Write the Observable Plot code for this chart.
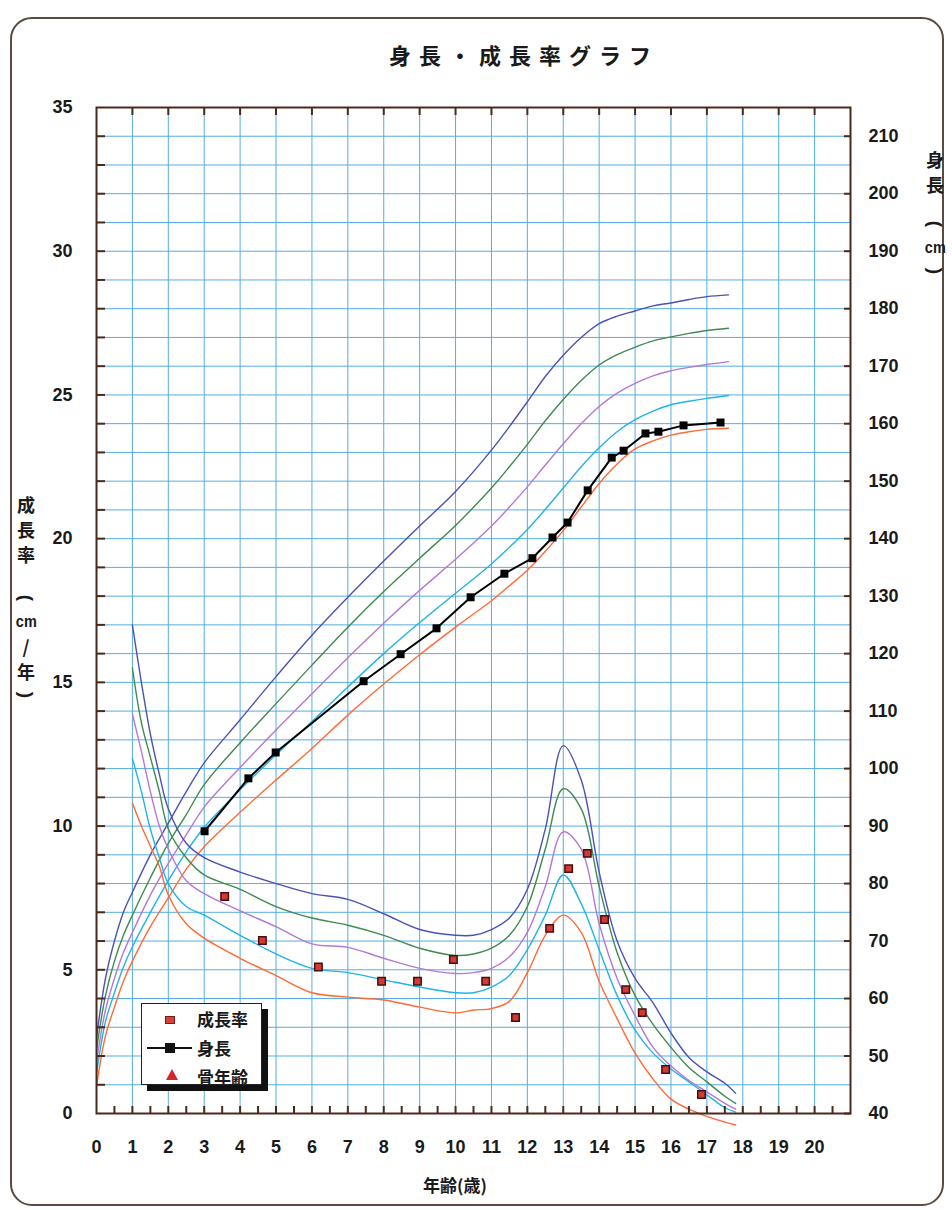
<!DOCTYPE html>
<html>
<head>
<meta charset="utf-8">
<script src="https://cdn.jsdelivr.net/npm/d3@7"></script>
<script src="https://cdn.jsdelivr.net/npm/@observablehq/plot@0.6"></script>
<style>
  html, body { margin: 0; padding: 0; background: #fff; }
  #wrap { position: relative; width: 952px; height: 1210px; overflow: hidden; background: #fff; }
  #border { position: absolute; left: 10px; top: 17px; width: 930px; height: 1185px; border: 2px solid #5b4a40; border-radius: 22px; }
  #chart { position: absolute; left: 0; top: 0; }
  .cjk { font-family: "Noto Sans CJK JP", "Noto Sans CJK SC", sans-serif; font-weight: 700; color: #1a1a1a; }
  #title { position: absolute; top: 38px; left: 524px; transform: translateX(-50%); font-size: 22px; letter-spacing: 8px; white-space: nowrap; }
  #xlabel { position: absolute; top: 1172px; left: 455px; transform: translateX(-50%); font-size: 17px; white-space: nowrap; }
  .vcol { position: absolute; display: flex; flex-direction: column; align-items: center; font-size: 18px; line-height: 25px; }
  .vcol .cm { font-family: "Liberation Sans", Arial, sans-serif; font-weight: 700; font-size: 17px; display: inline-block; transform: scaleX(0.85); }
  .vcol .par { display: inline-block; transform: rotate(90deg); font-family: "Liberation Sans", Arial, sans-serif; font-weight: 700; font-size: 19px; height: 22px; line-height: 22px; }
  #legend { position: absolute; left: 141px; top: 1003px; width: 119px; height: 80px; border: 1.5px solid #222; background: #fff; box-shadow: 6px 6px 0 #111; }
  .lrow { position: absolute; left: 55px; font-size: 17px; line-height: 20px; white-space: nowrap; }
  .sym { position: absolute; }
</style>
</head>
<body>
<div id="wrap">
  <div id="border"></div>
  <div id="chart"></div>
  <div id="title" class="cjk">身長・成長率グラフ</div>
  <div id="xlabel" class="cjk">年齢(歳)</div>
  <div class="vcol cjk" style="left:13px; top:492px; width:26px;">
    <span>成</span><span>長</span><span>率</span><span style="height:20px"></span>
    <span class="par">(</span><span class="cm">cm</span><span>/</span><span>年</span><span class="par">)</span>
  </div>
  <div class="vcol cjk" style="left:922px; top:147px; width:26px;">
    <span>身</span><span>長</span><span style="height:16px"></span>
    <span class="par">(</span><span class="cm">cm</span><span class="par">)</span>
  </div>
  <div id="legend">
    <div class="sym" style="left:23px; top:12px; width:8px; height:6px; background:#d8403a; border:1px solid #7a1a1a;"></div>
    <div class="lrow cjk" style="top:5px;">成長率</div>
    <div class="sym" style="left:5px; top:43px; width:45px; height:2px; background:#111;"></div>
    <div class="sym" style="left:23px; top:39px; width:10px; height:10px; background:#111;"></div>
    <div class="lrow cjk" style="top:34px;">身長</div>
    <div class="sym" style="left:24px; top:65px; width:0; height:0; border-left:6px solid transparent; border-right:6px solid transparent; border-bottom:11px solid #d8242a;"></div>
    <div class="lrow cjk" style="top:63px;">骨年齢</div>
  </div>
</div>
<script>
// ---------- data ----------
// height reference curves (cm), by age (years)
const heightAges = [0, 0.25, 0.5, 0.75, 1, 1.5, 2, 2.5, 3, 4, 5, 6, 7, 8, 9, 10, 11, 11.5, 12, 12.5, 13, 13.5, 14, 14.5, 15, 15.5, 16, 16.5, 17, 17.6];
const heightPlus2SD  = [53.2, 63.5, 70.0, 75.0, 78.5, 85.0, 90.5, 96.0, 101.0, 108.5, 116.0, 123.2, 129.8, 136.1, 142.2, 148.2, 155.4, 159.5, 163.8, 168.2, 171.9, 175.0, 177.4, 178.7, 179.6, 180.5, 181.0, 181.6, 182.1, 182.4];
const heightPlus1SD  = [51.1, 60.5, 66.5, 71.0, 74.5, 81.0, 87.0, 92.0, 97.2, 104.5, 111.3, 118.0, 124.6, 130.8, 136.6, 142.3, 148.8, 152.5, 156.4, 160.5, 164.2, 167.5, 170.2, 172.0, 173.3, 174.4, 175.1, 175.7, 176.2, 176.6];
const heightMean     = [49.0, 58.0, 63.5, 68.0, 71.5, 78.0, 83.5, 88.5, 93.3, 100.2, 106.7, 113.0, 119.3, 125.3, 131.0, 136.4, 142.2, 145.5, 149.0, 152.8, 156.5, 160.0, 163.0, 165.3, 167.0, 168.3, 169.2, 169.8, 170.3, 170.8];
const heightMinus1SD = [46.9, 56.0, 61.0, 65.5, 69.0, 75.0, 80.5, 85.5, 89.8, 96.3, 102.4, 108.2, 114.2, 120.0, 125.4, 130.5, 135.6, 138.5, 141.6, 145.1, 148.8, 152.5, 155.8, 158.6, 160.7, 162.2, 163.3, 163.9, 164.4, 164.9];
const heightMinus2SD = [44.8, 53.5, 58.5, 63.0, 66.5, 72.5, 77.5, 82.5, 86.4, 92.4, 98.0, 103.5, 109.3, 114.7, 119.8, 124.6, 129.2, 131.8, 134.5, 137.8, 141.4, 145.5, 149.6, 153.0, 155.6, 157.0, 158.0, 158.6, 159.0, 159.2];

// growth-rate reference curves (cm/year), by age (years)
const rateAges = [1, 1.25, 1.5, 1.75, 2, 2.5, 3, 4, 5, 6, 7, 8, 9, 10, 10.5, 11, 11.5, 12, 12.5, 13, 13.5, 14, 14.5, 15, 15.5, 16, 16.5, 17, 17.5, 17.8];
const ratePlus2SD  = [17.0, 15.0, 13.2, 11.8, 10.6, 9.4, 8.9, 8.4, 8.0, 7.65, 7.45, 6.95, 6.4, 6.2, 6.2, 6.4, 6.8, 7.8, 9.9, 12.8, 11.6, 8.4, 6.0, 4.7, 3.85, 2.8, 1.95, 1.45, 1.05, 0.7];
const ratePlus1SD  = [15.5, 13.6, 12.4, 11.2, 9.9, 8.9, 8.3, 7.8, 7.2, 6.8, 6.55, 6.2, 5.75, 5.5, 5.55, 5.75, 6.2, 7.2, 9.2, 11.3, 10.6, 7.9, 5.6, 4.1, 3.1, 2.3, 1.6, 1.1, 0.6, 0.35];
const rateMean     = [13.9, 12.6, 11.2, 10.0, 9.2, 8.1, 7.65, 7.05, 6.5, 5.9, 5.78, 5.4, 5.05, 4.87, 4.9, 5.05, 5.45, 6.3, 7.9, 9.8, 9.2, 6.6, 4.7, 3.4, 2.3, 1.65, 1.15, 0.75, 0.35, 0.15];
const rateMinus1SD = [12.35, 11.2, 9.9, 8.9, 8.0, 7.2, 6.9, 6.2, 5.55, 5.05, 4.9, 4.65, 4.4, 4.2, 4.2, 4.4, 4.8, 5.7, 6.9, 8.3, 7.3, 5.7, 4.1, 2.9, 2.1, 1.55, 1.1, 0.65, 0.2, 0.05];
const rateMinus2SD = [10.8, 10.0, 9.3, 8.6, 7.6, 6.6, 6.1, 5.4, 4.8, 4.2, 4.05, 3.95, 3.7, 3.5, 3.6, 3.65, 3.9, 4.9, 6.2, 6.9, 6.3, 4.6, 3.3, 2.1, 1.2, 0.5, 0.15, -0.1, -0.3, -0.4];

// patient measurements
const patientHeightAges = [3.01, 4.23, 4.99, 7.44, 8.47, 9.47, 10.42, 11.36, 12.14, 12.70, 13.12, 13.68, 14.35, 14.68, 15.29, 15.65, 16.35, 17.38];
const patientHeights    = [89.1, 98.3, 102.8, 115.2, 119.9, 124.4, 129.8, 133.9, 136.6, 140.2, 142.8, 148.4, 154.1, 155.3, 158.3, 158.6, 159.7, 160.2];
const patientRateAges = [3.57, 4.62, 6.18, 7.94, 8.94, 9.94, 10.84, 11.67, 12.62, 13.15, 13.67, 14.15, 14.74, 15.2, 15.85, 16.85];
const patientRates    = [7.55, 6.02, 5.1, 4.6, 4.6, 5.36, 4.6, 3.34, 6.44, 8.52, 9.05, 6.75, 4.31, 3.51, 1.53, 0.66];

// axis ticks
const ageTickLabels = d3.range(0, 21);
const rateTickLabels = [0, 5, 10, 15, 20, 25, 30, 35];
const heightTickLabels = [40, 50, 60, 70, 80, 90, 100, 110, 120, 130, 140, 150, 160, 170, 180, 190, 200, 210];

// ---------- build ----------
const seriesColors = ["#4b52b5", "#3f8a4f", "#b578d3", "#22b3e4", "#ff6a35"];
const heightSeries = [heightPlus2SD, heightPlus1SD, heightMean, heightMinus1SD, heightMinus2SD];
const rateSeries = [ratePlus2SD, ratePlus1SD, rateMean, rateMinus1SD, rateMinus2SD];

// height shares the left scale: 40 cm at 0, 5 cm per unit
const hToY = h => (h - 40) / 5;

const refMarks = [];
heightSeries.forEach((vals, i) => {
  const rows = heightAges.map((a, j) => ({age: a, h: vals[j]}));
  refMarks.push(Plot.line(rows, {x: "age", y: d => hToY(d.h), stroke: seriesColors[i], strokeWidth: 1.4, curve: "catmull-rom"}));
});
rateSeries.forEach((vals, i) => {
  const rows = rateAges.map((a, j) => ({age: a, r: vals[j]}));
  refMarks.push(Plot.line(rows, {x: "age", y: "r", stroke: seriesColors[i], strokeWidth: 1.4, curve: "catmull-rom"}));
});

const hPts = patientHeightAges.map((a, j) => ({age: a, h: patientHeights[j]}));
const rPts = patientRateAges.map((a, j) => ({age: a, r: patientRates[j]}));

const axisFont = {fontSize: 18, fontWeight: "bold", fill: "#1a1a1a"};

const chart = Plot.plot({
  width: 952,
  height: 1210,
  marginLeft: 96,
  marginRight: 102,
  marginTop: 107,
  marginBottom: 97,
  x: {domain: [0, 21], label: null},
  y: {domain: [0, 35], label: null},
  style: {fontFamily: "'Liberation Sans', Arial, sans-serif", background: "transparent", color: "#1a1a1a"},
  marks: [
    Plot.gridX(d3.range(1, 21), {stroke: "#55ade3", strokeOpacity: 1, strokeWidth: 1}),
    Plot.gridY(d3.range(1, 35), {stroke: "#55ade3", strokeOpacity: 1, strokeWidth: 1}),
    ...refMarks,
    Plot.line(hPts, {x: "age", y: d => hToY(d.h), stroke: "#000", strokeWidth: 2}),
    Plot.dot(hPts, {x: "age", y: d => hToY(d.h), symbol: "square", fill: "#000", r: 4.5}),
    Plot.dot(rPts, {x: "age", y: "r", symbol: "square", fill: "#d23a34", stroke: "#4a0e0e", strokeWidth: 1.5, r: 4.2}),
    Plot.frame({stroke: "#4a2a1c", strokeWidth: 2}),
    Plot.axisX(ageTickLabels, {anchor: "bottom", tickSize: 0, tickPadding: 27, label: null, ...axisFont}),
    Plot.axisX(d3.range(0.5, 21, 0.5), {anchor: "bottom", tickSize: -7, tickFormat: () => "", label: null, stroke: "#4a2a1c", strokeWidth: 2}),
    Plot.axisX(d3.range(1, 21), {anchor: "top", tickSize: -7, tickFormat: () => "", label: null, stroke: "#4a2a1c", strokeWidth: 2}),
    Plot.axisY(rateTickLabels, {anchor: "left", tickSize: 0, tickPadding: 24, label: null, ...axisFont}),
    Plot.axisY(d3.range(1, 35), {anchor: "left", tickSize: -9, tickFormat: () => "", label: null, stroke: "#4a2a1c", strokeWidth: 2}),
    Plot.axisY(heightTickLabels.map(hToY), {anchor: "right", tickSize: 0, tickPadding: 18, label: null, tickFormat: t => String(Math.round(40 + 5 * t)), ...axisFont}),
    Plot.axisY(heightTickLabels.map(hToY), {anchor: "right", tickSize: -7, tickFormat: () => "", label: null, stroke: "#4a2a1c", strokeWidth: 2})
  ]
});
document.getElementById("chart").appendChild(chart);
</script>
</body>
</html>
